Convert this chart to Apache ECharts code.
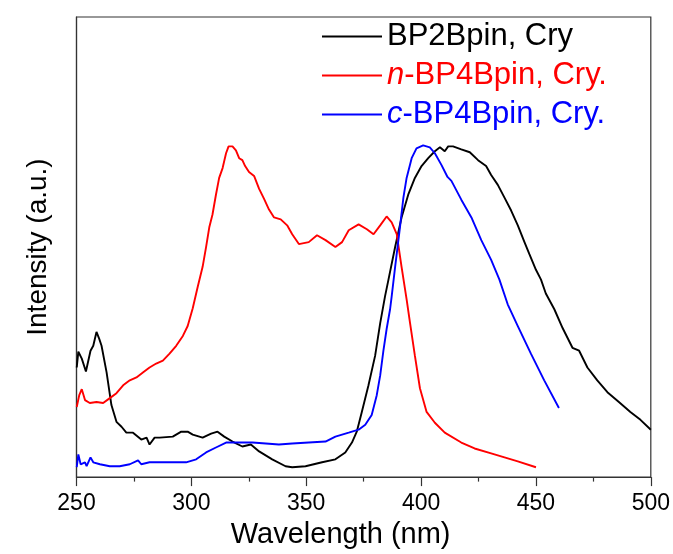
<!DOCTYPE html>
<html>
<head>
<meta charset="utf-8">
<script src="https://cdn.jsdelivr.net/npm/echarts@6/dist/echarts.min.js"></script>
<style>
html,body{margin:0;padding:0;background:#fff;}
#chart{width:673px;height:554px;}
</style>
</head>
<body>
<div id="chart"></div>
<script>
// Tick labels of the wavelength axis
var xTicks = [250, 300, 350, 400, 450, 500];

// BP2Bpin, Cry (black)
var bp2X = [250.1,250.8,252.3,254.1,256.1,257.3,258.7,259.9,260.9,263.1,265.2,267.4,269.6,271.7,274.6,278.2,280.5,281.8,284.0,286.2,291.9,295.6,298.4,300.6,304.9,308.6,311.4,314.3,317.9,322.2,325.9,329.5,335.2,341.0,343.9,349.7,356.9,362.7,367.0,369.9,372.0,374.2,377.1,380.0,382.2,384.3,385.8,388.7,391.5,394.4,397.3,400.2,403.1,406.0,408.2,410.3,411.8,413.9,417.5,421.2,424.8,428.3,430.5,433.4,436.3,439.2,442.1,445.0,447.1,450.0,452.2,454.3,458.0,461.6,465.9,468.8,472.4,476.7,481.1,486.1,491.1,495.5,500];
var bp2Y = [111,127,120,107,128,133,147,140,133,106,73,56,51,45,45,38,40,33,40,40,41,46,46,43,40,44,46,41,36,31,33,26,18,11,10,11,15,18,25,35,46,66,93,123,156,183,200,233,263,286,303,315,323,330,334,330,335,335,332,329,321,315,306,296,283,270,255,238,226,210,200,186,170,151,131,128,111,98,86,76,66,58,48];

// n-BP4Bpin, Cry. (red)
var nX = [250.1,251.2,252.3,253.7,255.8,258.7,261.6,264.5,267.4,270.3,273.2,276.1,278.9,281.8,284.7,287.6,290.5,293.4,296.3,298.4,300.6,302.8,304.9,306.4,307.8,309.2,310.7,312.1,313.6,315.1,316.2,317.9,319.4,320.8,322.2,323.4,325.1,327.3,329.5,331.6,333.8,336.0,338.9,341.7,343.9,346.8,351.1,354.7,358.4,362.7,365.6,368.5,372.8,376.4,379.3,382.2,385.0,387.2,389.4,391.5,393.7,395.2,397.3,399.5,402.4,406.0,410.3,417.5,423.3,430.5,436.3,442.1,450];
var nY = [71,83,89,78,75,76,75,80,85,93,98,101,106,111,115,118,125,133,143,153,171,193,213,233,253,266,286,303,313,328,335,335,331,323,321,315,309,305,292,282,271,263,261,255,246,236,238,245,240,233,238,250,256,251,246,255,264,258,246,213,180,156,123,90,66,55,45,35,29,24,20,16,10];

// c-BP4Bpin, Cry. (blue)
var cX = [250.1,250.8,251.8,253.7,254.4,256.1,257.3,260.2,264.5,268.8,273.2,276.8,278.2,281.8,286.2,291.9,297.7,302.1,306.4,310.7,315.1,320.8,326.6,332.4,338.1,343.9,351.1,358.4,362.7,368.5,372.8,375.7,378.5,380.7,382.2,383.6,385.0,386.5,387.2,388.7,390.8,392.3,393.7,395.9,398.0,400.9,403.8,406.0,408.9,411.5,413.2,417.5,421.9,426.2,430.5,434.1,437.7,442.1,447.8,453.6,460];
var cY = [10,23,13,15,11,20,15,13,11,11,13,17,13,15,15,15,15,18,25,30,35,35,35,34,33,34,35,36,41,45,48,53,63,83,103,128,150,170,183,213,253,283,303,323,333,336,334,328,316,304,300,281,263,240,220,200,175,153,125,98,70];

var seriesNames = ['BP2Bpin, Cry', 'n-BP4Bpin, Cry.', 'c-BP4Bpin, Cry.'];
var seriesColors = ['#000000', '#ff0000', '#0000ff'];

function pairs(xs, ys) {
  var out = [];
  for (var i = 0; i < xs.length; i++) out.push([xs[i], ys[i]]);
  return out;
}

var FONT = 'Liberation Sans, Arial, sans-serif';
var chart = echarts.init(document.getElementById('chart'), null, {renderer: 'canvas'});

var dataSets = [pairs(bp2X, bp2Y), pairs(nX, nY), pairs(cX, cY)];
var LF = 31;

chart.setOption({
  animation: false,
  backgroundColor: '#ffffff',
  grid: {
    left: 76.5, right: 19, top: 17, bottom: 71,
    show: true, borderColor: '#333333', borderWidth: 1.2, backgroundColor: 'transparent'
  },
  legend: {
    orient: 'vertical',
    left: 322, top: 21, padding: 0,
    itemWidth: 60, itemHeight: 2, itemGap: 8,
    icon: 'rect',
    data: seriesNames.map(function (n, i) {
      return {name: n, textStyle: {color: seriesColors[i]}};
    }),
    formatter: function (name) {
      if (name.indexOf('n-') === 0) return '{ir|n}-' + name.slice(2);
      if (name.indexOf('c-') === 0) return '{ib|c}-' + name.slice(2);
      return name;
    },
    textStyle: {
      fontFamily: FONT, fontSize: LF, lineHeight: LF,
      rich: {
        ir: {fontFamily: FONT, fontSize: LF, fontStyle: 'italic', color: '#ff0000', lineHeight: LF},
        ib: {fontFamily: FONT, fontSize: LF, fontStyle: 'italic', color: '#0000ff', lineHeight: LF}
      }
    }
  },
  xAxis: {
    type: 'value', min: xTicks[0], max: xTicks[xTicks.length - 1], interval: 50,
    name: 'Wavelength (nm)', nameLocation: 'middle', nameGap: 32,
    nameTextStyle: {fontFamily: FONT, fontSize: 29, color: '#000', padding: [0, 46, 0, 0]},
    axisLine: {show: true, onZero: false, lineStyle: {color: '#333333', width: 1.2}},
    axisTick: {show: true, inside: false, length: 9, lineStyle: {color: '#333333', width: 1.2}},
    minorTick: {show: true, splitNumber: 2, length: 4.5, lineStyle: {color: '#333333', width: 1.2}},
    axisLabel: {fontFamily: FONT, fontSize: 23, color: '#000', margin: 15},
    splitLine: {show: false}
  },
  yAxis: {
    type: 'value', min: 0, max: 466,
    name: 'Intensity (a.u.)', nameLocation: 'middle', nameGap: 24, nameRotate: 90,
    nameTextStyle: {fontFamily: FONT, fontSize: 28, color: '#000'},
    axisLine: {show: true, lineStyle: {color: '#333333', width: 1.2}},
    axisTick: {show: false}, axisLabel: {show: false}, splitLine: {show: false}
  },
  series: dataSets.map(function (d, i) {
    return {
      name: seriesNames[i], type: 'line', data: d,
      showSymbol: false, symbol: 'none',
      lineStyle: {color: seriesColors[i], width: 1.9},
      itemStyle: {color: seriesColors[i]}
    };
  })
});
</script>
</body>
</html>
